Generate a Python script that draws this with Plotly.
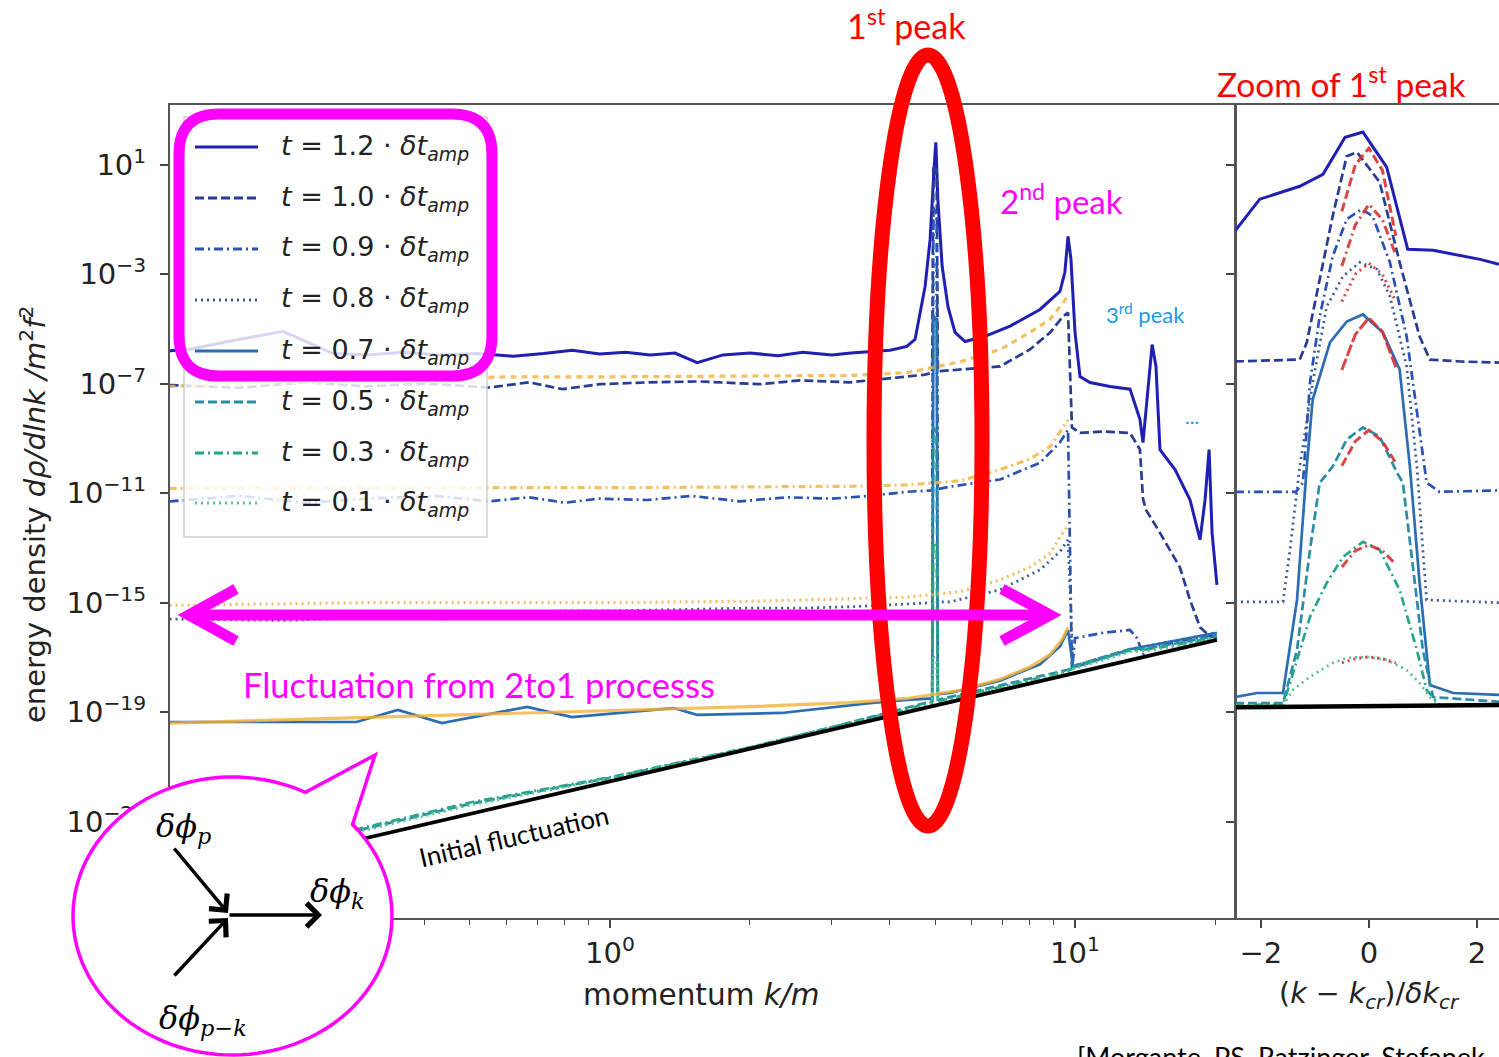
import numpy as np
import plotly.graph_objects as go

W, H = 1499, 1057

# ---------------- data ----------------
# main panel: momentum k/m ; values are log10 of energy density
times = [1.2, 1.0, 0.9, 0.8, 0.7, 0.5, 0.3, 0.1]

k_t12 = [0.113, 0.124, 0.152, 0.198, 0.254, 0.30, 0.36, 0.43, 0.52, 0.62, 0.72, 0.83, 0.95, 1.08, 1.22,
         1.38, 1.54, 1.75, 2.0, 2.3, 2.6, 3.0, 3.3, 3.62, 4.0, 4.35, 4.53, 4.76, 4.88, 4.98,
         5.02, 5.07, 5.18, 5.33, 5.52, 5.80, 6.40, 7.25, 8.41, 9.28, 9.51, 9.66, 9.80, 10.0, 10.25,
         10.77, 11.89, 13.13, 13.79, 14.0, 14.28, 14.65, 14.93, 15.23, 16.41, 17.67, 18.57, 19.04, 19.42, 19.71, 20.19]
lg_t12 = [-5.80, -5.75, -5.45, -5.09, -5.90, -5.95, -5.85, -5.95, -5.90, -6.00, -5.90, -5.78, -5.92, -5.85, -5.95,
          -5.88, -6.23, -5.95, -5.88, -5.98, -5.85, -5.95, -5.88, -5.82, -5.78, -5.64, -5.38, -3.45, -1.73, 0.95,
          1.82, -0.26, -2.71, -4.18, -5.13, -5.46, -5.27, -4.90, -4.29, -3.63, -2.93, -1.62, -2.45, -5.13, -6.74,
          -6.96, -7.10, -7.20, -8.30, -9.15, -7.58, -5.57, -6.37, -9.41, -10.14, -11.24, -12.70, -11.24, -9.41, -12.45, -14.35]

k_t10 = [0.113, 0.16, 0.22, 0.30, 0.40, 0.55, 0.67, 0.79, 0.95, 1.22, 1.56, 2.1, 2.56, 3.28, 4.35,
         4.76, 4.93, 4.96, 5.04, 5.07, 5.5, 6.9, 8.0, 8.84, 9.42, 9.66, 9.85, 10.25, 11.5, 13.13, 13.79,
         14.0, 14.2, 15.23, 16.8, 17.67, 18.57, 19.42, 20.19]
lg_t10 = [-7.05, -7.15, -6.95, -7.10, -7.00, -7.14, -6.95, -7.20, -7.02, -6.95, -6.92, -7.02, -6.88, -6.95, -6.74,
          -6.67, -6.60, 1.0, 0.8, -6.55, -6.50, -6.37, -5.75, -5.13, -4.55, -4.40, -8.60, -8.80, -8.75, -8.80, -9.40,
          -11.2, -11.6, -12.45, -13.7, -14.9, -15.9, -16.2, -16.3]

k_t09 = [0.113, 0.16, 0.22, 0.30, 0.42, 0.55, 0.67, 0.80, 0.95, 1.2, 1.5, 1.9, 2.4, 3.0, 3.62,
         4.35, 4.93, 4.96, 5.04, 5.07, 5.39, 6.9, 8.41, 9.28, 9.66, 9.85, 10.0, 11.5, 13.13, 13.6, 14.0,
         14.3, 16.4, 20.19]
lg_t09 = [-11.3, -11.1, -11.35, -11.2, -11.1, -11.3, -11.15, -11.35, -11.2, -11.25, -11.1, -11.3, -11.15, -11.2, -11.1,
          -10.95, -10.9, -0.6, -0.8, -10.85, -10.76, -10.5, -9.89, -9.15, -8.68, -17.5, -16.3, -16.1, -16.0, -16.3, -16.9,
          -16.7, -16.45, -16.15]

k_t08 = [0.113, 0.2, 0.3, 0.45, 0.6, 0.8, 1.0, 1.5, 2.0, 2.6, 3.28, 4.35, 4.93, 4.96, 5.04, 5.07,
         5.39, 6.9, 8.41, 9.28, 9.66, 9.9, 10.25, 13.13, 16.4, 20.19]
lg_t08 = [-15.6, -15.65, -15.55, -15.6, -15.4, -15.3, -15.3, -15.25, -15.2, -15.2, -15.15, -15.05, -15.0, -2.6, -2.8, -14.97,
          -14.97, -14.53, -13.8, -13.14, -12.7, -17.3, -17.25, -16.7, -16.4, -16.1]

k_t07 = [0.113, 0.2, 0.285, 0.35, 0.435, 0.663, 0.829, 1.37, 1.54, 2.34, 3.62, 4.35, 4.93, 4.96, 5.04, 5.07,
         5.39, 6.9, 8.41, 9.28, 9.66, 9.9, 10.25, 13.13, 16.4, 20.19]
lg_t07 = [-19.36, -19.36, -19.36, -18.92, -19.4, -18.81, -19.18, -18.85, -19.1, -19.03, -18.67, -18.55, -18.5, -4.5, -4.7, -18.35,
          -18.3, -17.85, -17.25, -16.6, -16.0, -17.35, -17.3, -16.7, -16.4, -16.1]

k_low = [0.113, 0.3, 0.5, 1.0, 2.0, 3.0, 4.93, 4.96, 5.04, 5.07, 7.0, 9.66, 10.0, 11.5, 13.1, 14.5, 17.0, 20.19]
lg_t05 = [-24.95, -23.25, -22.35, -21.4, -20.3, -19.55, -18.6, -8.6, -8.8, -18.55, -18.0, -17.45, -17.3, -17.0, -16.7, -16.65, -16.45, -16.2]
lg_t03 = [-24.9, -23.2, -22.3, -21.38, -20.28, -19.55, -18.65, -12.8, -13.0, -18.6, -18.05, -17.5, -17.35, -17.05, -16.75, -16.7, -16.5, -16.25]
lg_t01 = [-25.0, -23.3, -22.4, -21.42, -20.3, -19.58, -18.7, -17.0, -17.1, -18.65, -18.1, -17.5, -17.4, -17.1, -16.8, -16.75, -16.55, -16.3]

# analytic 2-to-1 curves (orange)
k_or = [0.113, 0.3, 0.6, 1.0, 2.0, 3.28, 4.35, 5.66, 6.9, 8.0, 8.84, 9.42, 9.66]
or_dash = [-7.1, -6.9, -6.75, -6.75, -6.72, -6.7, -6.6, -6.2, -5.75, -5.13, -4.65, -4.03, -3.8]
or_dashdot = [-10.83, -10.8, -10.8, -10.8, -10.78, -10.75, -10.7, -10.55, -10.14, -9.75, -9.3, -8.6, -8.31]
or_dot = [-15.1, -15.0, -15.0, -15.0, -14.95, -14.85, -14.8, -14.6, -14.17, -13.7, -13.2, -12.45, -12.2]
or_solid = [-19.4, -19.2, -19.05, -18.95, -18.8, -18.65, -18.5, -18.2, -17.8, -17.35, -16.9, -16.3, -15.9]

# initial fluctuation
k_ini = [0.113, 0.3, 1.0, 3.0, 5.0, 10.0, 20.19]
lg_ini = [-25.27, -23.58, -21.53, -19.64, -18.76, -17.57, -16.36]

# right panel: (k - k_cr)/dk_cr
u_r12 = [-2.48, -2.02, -1.28, -0.85, -0.44, -0.11, 0.33, 0.72, 1.19, 2.06, 2.41]
lg_r12 = [-1.43, -0.26, 0.21, 0.65, 2.0, 2.19, 0.91, -2.09, -2.13, -2.46, -2.64]
u_r10 = [-2.48, -1.28, -1.15, -0.67, -0.41, -0.22, 0.20, 0.57, 0.94, 1.13, 1.69, 2.41]
lg_r10 = [-6.19, -6.12, -5.5, -0.88, 1.31, 1.46, 0.36, -2.57, -5.28, -6.12, -6.19, -6.23]
u_r09 = [-2.48, -1.35, -1.22, -1.09, -0.91, -0.67, -0.41, -0.13, 0.07, 0.39, 0.70, 0.94, 1.07, 1.31, 2.41]
lg_r09 = [-10.95, -10.95, -10.62, -6.96, -4.54, -2.35, -0.99, -0.63, -0.88, -2.57, -5.28, -8.79, -10.62, -10.95, -10.9]
u_r08 = [-2.48, -1.59, -1.46, -1.28, -1.04, -0.78, -0.48, -0.17, 0.15, 0.39, 0.70, 0.89, 1.0, 1.07, 2.41]
lg_r08 = [-14.97, -14.97, -13.07, -10.03, -6.96, -4.18, -3.08, -2.57, -2.82, -3.81, -6.37, -10.03, -13.07, -14.9, -15.0]
u_r07 = [-2.48, -2.07, -1.59, -1.33, -1.15, -1.04, -0.72, -0.41, -0.11, 0.26, 0.57, 0.76, 0.94, 1.13, 1.56, 2.41]
lg_r07 = [-18.45, -18.30, -18.30, -14.90, -10.03, -7.58, -5.49, -4.73, -4.47, -5.13, -6.48, -10.03, -14.28, -18.01, -18.30, -18.37]
u_r05 = [-2.48, -1.59, -1.33, -1.09, -0.91, -0.67, -0.41, -0.11, 0.20, 0.52, 0.63, 0.81, 1.0, 1.19, 2.41]
lg_r05 = [-18.67, -18.67, -16.73, -13.07, -10.62, -10.03, -9.04, -8.60, -8.93, -10.25, -10.62, -13.69, -16.73, -18.45, -18.62]
u_r03 = [-2.48, -1.59, -1.46, -1.09, -0.78, -0.48, -0.11, 0.20, 0.57, 0.89, 1.07, 1.31, 2.41]
lg_r03 = [-18.74, -18.72, -17.94, -15.52, -14.28, -13.33, -12.78, -13.07, -14.53, -16.73, -18.19, -18.74, -18.7]
u_r01 = [-2.48, -1.59, -1.41, -1.09, -0.67, -0.41, -0.04, 0.33, 0.70, 0.94, 1.13, 1.31, 2.41]
lg_r01 = [-18.76, -18.76, -18.19, -17.71, -17.20, -17.02, -16.98, -17.09, -17.46, -17.94, -18.45, -18.74, -18.72]
u_rini = [-2.48, 2.41]
lg_rini = [-18.82, -18.74]

# red analytic fits near the first peak
u_fit = [-0.5, -0.25, 0.0, 0.25, 0.5]
fit_10 = [-0.7, 1.0, 1.6, 0.8, -1.6]
fit_09 = [-2.7, -1.2, -0.45, -1.0, -2.3]
fit_08 = [-4.0, -3.0, -2.6, -3.0, -4.0]
fit_07 = [-6.5, -5.2, -4.6, -5.1, -6.4]
fit_05 = [-10.0, -9.1, -8.7, -9.1, -9.9]
fit_03 = [-13.7, -13.1, -12.9, -13.1, -13.6]
fit_01 = [-17.2, -17.05, -16.98, -17.05, -17.2]

y_tick_exp = [1, -3, -7, -11, -15, -19, -23]
x_tick_main = [1, 10]
x_minor_main = [0.2, 0.3, 0.4, 0.5, 0.6, 0.7, 0.8, 0.9, 2, 3, 4, 5, 6, 7, 8, 9, 20]
x_tick_right = [-2, 0, 2]

# ---------------- styles ----------------
COL = {1.2: "#1f1fb4", 1.0: "#283c94", 0.9: "#2a52b4", 0.8: "#3c5a96",
       0.7: "#2b6db2", 0.5: "#2a8ca6", 0.3: "#25a68a", 0.1: "#55c48e"}
SOLID, DASH, DASHDOT, DOT = "solid", "9px,4px", "9px,4px,2px,4px", "2px,4px"
STY = {1.2: SOLID, 1.0: DASH, 0.9: DASHDOT, 0.8: DOT, 0.7: SOLID, 0.5: DASH, 0.3: DASHDOT, 0.1: DOT}
ORANGE = "rgba(242,176,58,0.8)"
RED = "rgba(214,50,50,0.9)"

fig = go.Figure()


def add(x, lg, color, dash, width, xa="x", ya="y"):
    fig.add_trace(go.Scatter(x=x, y=np.power(10.0, np.array(lg)), mode="lines",
                             line=dict(color=color, dash=dash, width=width),
                             xaxis=xa, yaxis=ya, hoverinfo="skip", showlegend=False))


main = {1.2: (k_t12, lg_t12), 1.0: (k_t10, lg_t10), 0.9: (k_t09, lg_t09), 0.8: (k_t08, lg_t08),
        0.7: (k_t07, lg_t07), 0.5: (k_low, lg_t05), 0.3: (k_low, lg_t03), 0.1: (k_low, lg_t01)}
for t in times:
    kx, ly = main[t]
    add(kx, ly, COL[t], STY[t], 3.0 if t == 1.2 else 2.7)

add(k_or, or_dash, ORANGE, "6px,5px", 3.2)
add(k_or, or_dashdot, ORANGE, "7px,4px,2px,4px", 3.2)
add(k_or, or_dot, ORANGE, "2px,4px", 3.2)
add(k_or, or_solid, ORANGE, SOLID, 3.2)
add(k_ini, lg_ini, "black", SOLID, 3.8)

right = {1.2: (u_r12, lg_r12), 1.0: (u_r10, lg_r10), 0.9: (u_r09, lg_r09), 0.8: (u_r08, lg_r08),
         0.7: (u_r07, lg_r07), 0.5: (u_r05, lg_r05), 0.3: (u_r03, lg_r03), 0.1: (u_r01, lg_r01)}
for t in times:
    ux, ly = right[t]
    add(ux, ly, COL[t], STY[t], 3.0 if t == 1.2 else 2.7, "x2", "y2")
add(u_rini, lg_rini, "black", SOLID, 4.5, "x2", "y2")
fits = {1.0: fit_10, 0.9: fit_09, 0.8: fit_08, 0.7: fit_07, 0.5: fit_05, 0.3: fit_03, 0.1: fit_01}
for t, f in fits.items():
    add(u_fit, f, RED, STY[t] if STY[t] != SOLID else "12px,3px", 3, "x2", "y2")

# ---------------- axes ----------------
TF = dict(family="DejaVu Sans", size=29, color="#222")
ax_common = dict(showline=True, linecolor="#555", linewidth=2, ticks="outside", ticklen=8,
                 tickwidth=1.5, tickcolor="#444", showgrid=False, zeroline=False, tickfont=TF,
                 automargin=False)
ydom = [1 - 918 / H, 1 - 105 / H]
yvals = [10.0 ** e for e in y_tick_exp]
ytext = ["10<sup>%s</sup>" % (str(e).replace("-", "\u2212")) for e in y_tick_exp]

fig.update_layout(
    width=W, height=H, margin=dict(l=0, r=0, t=0, b=0), template="none",
    paper_bgcolor="white", plot_bgcolor="white", showlegend=False,
    xaxis=dict(type="log", domain=[170 / W, 1235 / W], range=[-0.946, 1.344], mirror=True,
               tickvals=x_tick_main, ticktext=["10<sup>0</sup>", "10<sup>1</sup>"],
               minor=dict(tickvals=x_minor_main, ticks="outside", ticklen=5, tickwidth=1.2,
                          tickcolor="#444", showgrid=False), **ax_common),
    yaxis=dict(type="log", domain=ydom, range=[-26.52, 3.18], mirror=True, ticklabelstandoff=8,
               tickvals=yvals, ticktext=ytext, **ax_common),
    xaxis2=dict(domain=[1236 / W, 1.0], range=[-2.46, 2.41], anchor="y2", mirror=True,
                tickvals=x_tick_right, ticktext=["\u22122", "0", "2"], **ax_common),
    yaxis2=dict(type="log", domain=ydom, range=[-26.52, 3.18], anchor="x2", mirror=False,
                tickvals=yvals, showticklabels=False, **ax_common),
)


# ---------------- decorations ----------------
def px(x):
    return x / W


def py(y):
    return 1 - y / H


def path(pts, close=False):
    s = "M " + " L ".join("%.5f,%.5f" % (px(a), py(b)) for a, b in pts)
    return s + (" Z" if close else "")


shapes = []
# legend frame
shapes.append(dict(type="rect", xref="paper", yref="paper", x0=px(184), x1=px(487), y0=py(537), y1=py(117),
                   fillcolor="rgba(255,255,255,0.82)", line=dict(color="#d0d0d0", width=1.5), layer="above"))
rows = [147, 198, 249, 300, 351, 402, 453, 503]
for t, yy in zip(times, rows):
    shapes.append(dict(type="line", xref="paper", yref="paper", x0=px(195), x1=px(258), y0=py(yy), y1=py(yy),
                       line=dict(color=COL[t], dash=STY[t], width=3), layer="above"))

# magenta rounded box around the first legend entries
x0, y0, x1, y1, r = 179, 114, 492, 376, 40
rb = ("M %f,%f L %f,%f Q %f,%f %f,%f L %f,%f Q %f,%f %f,%f L %f,%f Q %f,%f %f,%f L %f,%f Q %f,%f %f,%f Z" % (
    px(x0 + r), py(y0), px(x1 - r), py(y0), px(x1), py(y0), px(x1), py(y0 + r),
    px(x1), py(y1 - r), px(x1), py(y1), px(x1 - r), py(y1),
    px(x0 + r), py(y1), px(x0), py(y1), px(x0), py(y1 - r),
    px(x0), py(y0 + r), px(x0), py(y0), px(x0 + r), py(y0)))
shapes.append(dict(type="path", xref="paper", yref="paper", path=rb, line=dict(color="#ff00ff", width=11),
                   layer="above"))

# red ellipse around the first peak
shapes.append(dict(type="circle", xref="paper", yref="paper", x0=px(874), x1=px(982), y0=py(826), y1=py(55),
                   line=dict(color="#ff0000", width=15), layer="above"))

# magenta double arrow
shapes.append(dict(type="line", xref="paper", yref="paper", x0=px(192), x1=px(1048), y0=py(615), y1=py(615),
                   line=dict(color="#ff00ff", width=11), layer="above"))
shapes.append(dict(type="path", xref="paper", yref="paper", path=path([(236, 589), (189, 615), (236, 641)]),
                   line=dict(color="#ff00ff", width=11), layer="above"))
shapes.append(dict(type="path", xref="paper", yref="paper", path=path([(1002, 589), (1050, 615), (1002, 641)]),
                   line=dict(color="#ff00ff", width=11), layer="above"))

# speech bubble
cx, cy, rx, ry = 232.5, 916.0, 159.5, 139.0
a0 = np.arctan2(-0.655, 0.749)
a1 = np.arctan2(-0.885, 0.4545) + 2 * np.pi
ang = np.linspace(a0, a1, 120)
pts = [(cx + rx * np.cos(a), cy + ry * np.sin(a)) for a in ang] + [(375, 755)]
shapes.append(dict(type="path", xref="paper", yref="paper", path=path(pts, close=True),
                   fillcolor="white", line=dict(color="#ff00ff", width=3.5), layer="above"))

fig.update_layout(shapes=shapes)

ann = []
LAT = "Lato"
for t, yy in zip(times, rows):
    ann.append(dict(xref="paper", yref="paper", x=px(279), y=py(yy), xanchor="left", yanchor="middle",
                    text="<i>t</i> = %.1f · <i>δt</i><sub><i>amp</i></sub>" % t, showarrow=False,
                    font=dict(family="DejaVu Sans", size=27, color="#222")))

ann += [
    dict(x=px(906), y=py(24), text="1<sup>st</sup> peak", font=dict(family=LAT, size=34, color="#ff0000")),
    dict(x=px(1341), y=py(82), text="Zoom of 1<sup>st</sup> peak", font=dict(family=LAT, size=33.5, color="#ff0000")),
    dict(x=px(1061), y=py(199), text="2<sup>nd</sup> peak", font=dict(family=LAT, size=33, color="#ff00ff")),
    dict(x=px(1145), y=py(313), text="3<sup>rd</sup> peak", font=dict(family=LAT, size=22, color="#1a9be0")),
    dict(x=px(1192), y=py(416), text="...", font=dict(family=LAT, size=20, color="#1a9be0")),
    dict(x=px(479), y=py(684), text="Fluctuation from 2to1 processs", font=dict(family=LAT, size=34.5, color="#ff00ff")),
    dict(x=px(514), y=py(836), text="Initial fluctuation", textangle=-13, font=dict(family=LAT, size=26, color="black")),
    dict(x=px(1075), y=py(1038), xanchor="left", yanchor="top", text="[Morgante, PS, Ratzinger, Stefanek, ...]",
         font=dict(family=LAT, size=27, color="black")),
    dict(x=px(33), y=py(515), textangle=-90,
         text="energy density <i>dρ/dlnk /m</i><sup>2</sup><i>f</i><sup>2</sup>",
         font=dict(family="DejaVu Sans", size=29, color="#222")),
    dict(x=px(701), y=py(995), text="momentum <i>k/m</i>", font=dict(family="DejaVu Sans", size=29.5, color="#222")),
    dict(x=px(1369), y=py(995), text="(<i>k</i> \u2212 <i>k</i><sub><i>cr</i></sub>)/<i>δk</i><sub><i>cr</i></sub>",
         font=dict(family="DejaVu Sans", size=28.5, color="#222")),
    dict(x=px(183), y=py(828), text="<i>δϕ</i><sub><i>p</i></sub>", font=dict(family="DejaVu Serif", size=32, color="black")),
    dict(x=px(337), y=py(893), text="<i>δϕ</i><sub><i>k</i></sub>", font=dict(family="DejaVu Serif", size=32, color="black")),
    dict(x=px(203), y=py(1020), text="<i>δϕ</i><sub><i>p−k</i></sub>", font=dict(family="DejaVu Serif", size=32, color="black")),
]
for a in ann[len(times):]:
    a.setdefault("xref", "paper")
    a.setdefault("yref", "paper")
    a.setdefault("showarrow", False)
    a.setdefault("xanchor", "center")
    a.setdefault("yanchor", "middle")

# arrows of the 2->1 diagram
for (hx, hy, tx, ty) in [(228, 913, 173, 847), (228, 918, 173, 977), (322, 915, 228, 915)]:
    ann.append(dict(xref="paper", yref="paper", x=px(hx), y=py(hy), ax=tx - hx, ay=ty - hy, text="",
                    showarrow=True, arrowhead=4, arrowsize=1.3, arrowwidth=3.5, arrowcolor="black"))

fig.update_layout(annotations=ann)

fig.write_html("out.html", config={"displayModeBar": False},
               post_script="document.body.style.margin='0px';")
